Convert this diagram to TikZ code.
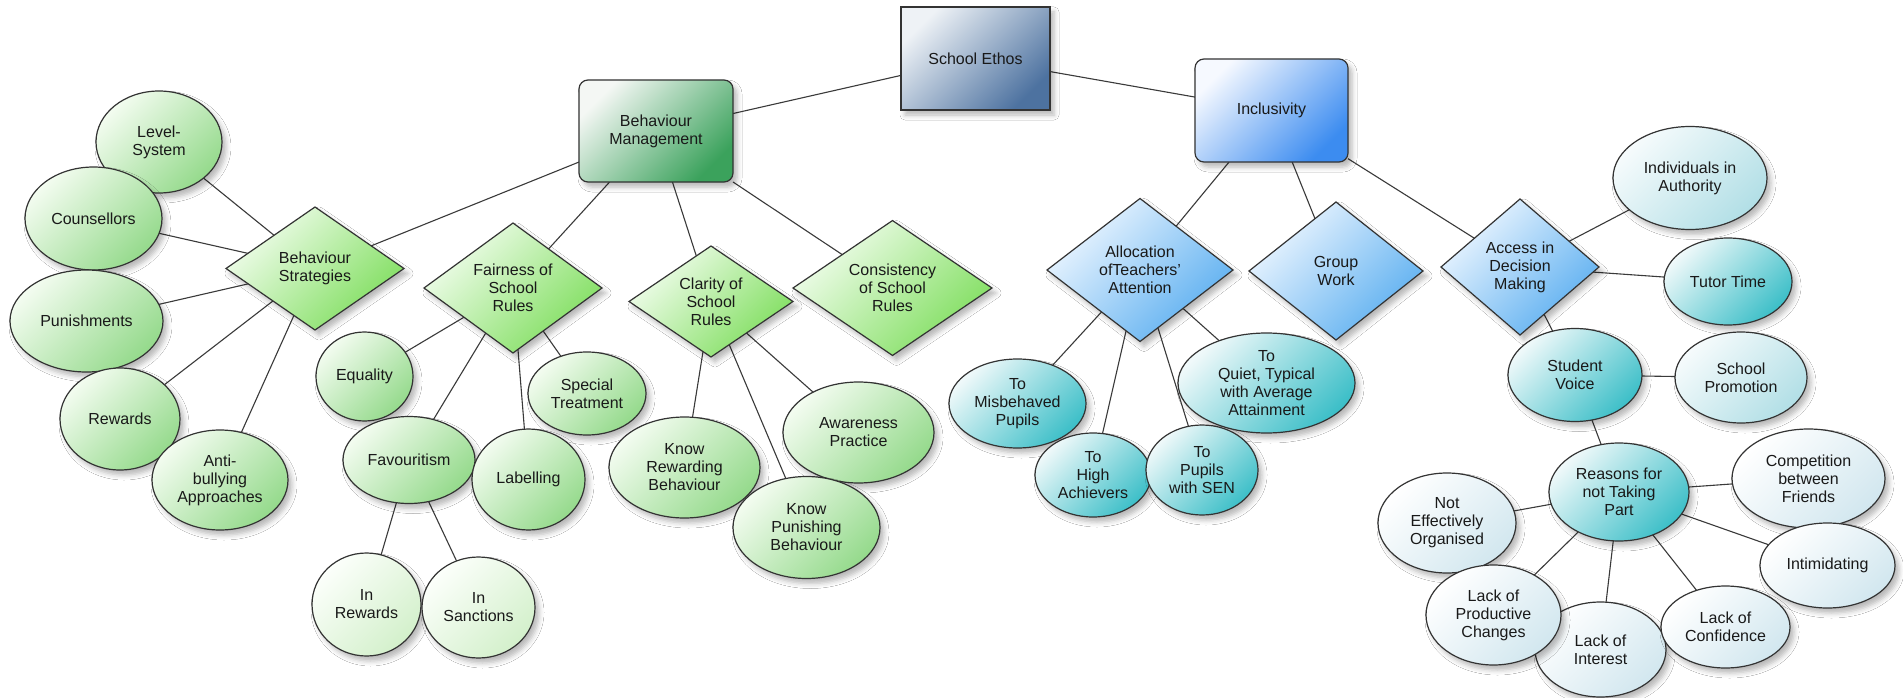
\documentclass[tikz,border=0pt]{standalone}
\usepackage{fontspec}
\setmainfont{Liberation Sans}
\usetikzlibrary{shapes.geometric,shadows.blur,backgrounds}

\definecolor{linec}{HTML}{333333}
\definecolor{edgec}{HTML}{3A3A3A}
\definecolor{ethosA}{HTML}{EEF2F6}
\definecolor{ethosB}{HTML}{4D72A0}
\definecolor{bmA}{HTML}{F4F7F4}
\definecolor{bmB}{HTML}{3BA25C}
\definecolor{inclA}{HTML}{F6F9FF}
\definecolor{inclB}{HTML}{3C8CF0}
\definecolor{gdiaA}{HTML}{F2FDEE}
\definecolor{gdiaB}{HTML}{7FDE5E}
\definecolor{gellA}{HTML}{F3FCF0}
\definecolor{gellB}{HTML}{95DA8C}
\definecolor{gpaleA}{HTML}{FCFFFB}
\definecolor{gpaleB}{HTML}{D3F0CB}
\definecolor{bdiaA}{HTML}{EFF7FF}
\definecolor{bdiaB}{HTML}{5AAEF0}
\definecolor{tealA}{HTML}{F0F9FA}
\definecolor{tealB}{HTML}{3DBFC8}
\definecolor{tpaleA}{HTML}{F6FBFC}
\definecolor{tpaleB}{HTML}{B2DFE6}
\definecolor{whiteB}{HTML}{D2E7EF}

\begin{document}
\begin{tikzpicture}[x=1pt,y=-1pt,
  base/.style={draw=linec, line width=1.2pt, inner sep=0pt, outer sep=0pt,
    align=center, text=black!90, font=\fontsize{16}{18}\selectfont,
    blur shadow={shadow xshift=4pt, shadow yshift=-5pt,
      shadow blur radius=5pt, shadow opacity=28}},
  conn/.style={draw=edgec, line width=1.1pt},
  % shapes
  ell/.style={base, ellipse},
  dia/.style={base, diamond},
  box/.style={base, rectangle},
  rbox/.style={base, rectangle, rounded corners=9pt},
  % fills (light towards the upper left, saturated towards the lower right)
  fEthos/.style={top color=ethosA, bottom color=ethosB, shading angle=45},
  fBM/.style={top color=bmA, bottom color=bmB, shading angle=45},
  fIncl/.style={top color=inclA, bottom color=inclB, shading angle=45},
  fGdia/.style={top color=gdiaA, bottom color=gdiaB, shading angle=45},
  fGell/.style={top color=gellA, bottom color=gellB, shading angle=45},
  fGpale/.style={top color=gpaleA, bottom color=gpaleB, shading angle=45},
  fBdia/.style={top color=bdiaA, bottom color=bdiaB, shading angle=45},
  fTeal/.style={top color=tealA, bottom color=tealB, shading angle=45},
  fTpale/.style={top color=tpaleA, bottom color=tpaleB, shading angle=45},
  fWhite/.style={top color=white, bottom color=whiteB, shading angle=45},
]
\path[use as bounding box] (0,0) rectangle (1903,698);

% ---- top level ----
\node[box, fEthos, minimum width=149pt, minimum height=103pt] (ethos) at (975.5,58.5) {School Ethos};
\node[rbox, fBM, minimum width=154pt, minimum height=102pt] (bm) at (656,131) {Behaviour\\Management};
\node[rbox, fIncl, minimum width=153pt, minimum height=103pt] (incl) at (1271.5,110.5) {Inclusivity};

% ---- behaviour management ----
\node[dia, fGdia, minimum width=178pt, minimum height=123pt] (bs) at (315,268.5) {Behaviour\\Strategies};
\node[dia, fGdia, minimum width=178pt, minimum height=130pt] (fair) at (513,288) {Fairness of\\School\\Rules};
\node[dia, fGdia, minimum width=164pt, minimum height=111pt] (clar) at (711,301.5) {Clarity of\\School\\Rules};
\node[dia, fGdia, minimum width=199pt, minimum height=106pt] (cons) at (892.5,288) {Consistency\\of School\\Rules};

\node[ell, fGell, minimum width=126pt, minimum height=102pt] (level) at (159,142) {Level-\\System};
\node[ell, fGell, minimum width=137pt, minimum height=103pt] (couns) at (93.5,218.5) {Counsellors};
\node[ell, fGell, minimum width=153pt, minimum height=102pt] (punish) at (86.5,321) {Punishments};
\node[ell, fGell, minimum width=120pt, minimum height=102pt] (rewards) at (120,419) {Rewards};
\node[ell, fGell, minimum width=136pt, minimum height=100pt] (antib) at (220,480) {Anti-\\bullying\\Approaches};

\node[ell, fGell, minimum width=97pt, minimum height=89pt] (equal) at (364.5,376.5) {Equality};
\node[ell, fGell, minimum width=118pt, minimum height=83pt] (special) at (587,393.5) {Special\\Treatment};
\node[ell, fGell, minimum width=132pt, minimum height=87pt] (favour) at (409,460) {Favouritism};
\node[ell, fGell, minimum width=113pt, minimum height=101pt] (label) at (528.5,479.5) {Labelling};
\node[ell, fGpale, minimum width=109pt, minimum height=103pt] (inrew) at (366.5,604.5) {In\\Rewards};
\node[ell, fGpale, minimum width=113pt, minimum height=101pt] (insanc) at (478.5,607.5) {In\\Sanctions};

\node[ell, fGell, minimum width=151pt, minimum height=101pt] (knowrew) at (684.5,467.5) {Know\\Rewarding\\Behaviour};
\node[ell, fGell, minimum width=151pt, minimum height=101pt] (aware) at (858.5,432.5) {Awareness\\Practice};
\node[ell, fGell, minimum width=147pt, minimum height=102pt] (knowpun) at (806.5,527.5) {Know\\Punishing\\Behaviour};

% ---- inclusivity ----
\node[dia, fBdia, minimum width=186pt, minimum height=143pt] (alloc) at (1140,270) {Allocation\\ofTeachers'\\Attention};
\node[dia, fBdia, minimum width=174pt, minimum height=138pt] (group) at (1336,271) {Group\\Work};
\node[dia, fBdia, minimum width=158pt, minimum height=136pt] (access) at (1520,267) {Access in\\Decision\\Making};

\node[ell, fTeal, minimum width=137pt, minimum height=89pt] (misb) at (1017.5,403.5) {To\\Misbehaved\\Pupils};
\node[ell, fTeal, minimum width=177pt, minimum height=100pt] (quiet) at (1266.5,383) {To\\Quiet, Typical\\with Average\\Attainment};
\node[ell, fTeal, minimum width=116pt, minimum height=84pt] (high) at (1093,475) {To\\High\\Achievers};
\node[ell, fTeal, minimum width=112pt, minimum height=90pt] (sen) at (1202,470) {To\\Pupils\\with SEN};

\node[ell, fTpale, minimum width=154pt, minimum height=103pt] (indiv) at (1690,178) {Individuals in\\Authority};
\node[ell, fTeal, minimum width=128pt, minimum height=87pt] (tutor) at (1728,281.5) {Tutor Time};
\node[ell, fTeal, minimum width=134pt, minimum height=93pt] (voice) at (1575,375) {Student\\Voice};
\node[ell, fTpale, minimum width=132pt, minimum height=91pt] (promo) at (1741,377.5) {School\\Promotion};
\node[ell, fTeal, minimum width=140pt, minimum height=98pt] (reasons) at (1619,492) {Reasons for\\not Taking\\Part};

\node[ell, fWhite, minimum width=138pt, minimum height=100pt] (noteff) at (1447,523) {Not\\Effectively\\Organised};
\node[ell, fWhite, minimum width=131pt, minimum height=95pt] (lackint) at (1600.5,649.5) {Lack of\\Interest};
\node[ell, fWhite, minimum width=135pt, minimum height=100pt] (lackprod) at (1493.5,615) {Lack of\\Productive\\Changes};
\node[ell, fWhite, minimum width=129pt, minimum height=82pt] (lackconf) at (1725.5,627) {Lack of\\Confidence};
\node[ell, fWhite, minimum width=153pt, minimum height=99pt] (compet) at (1808.5,478.5) {Competition\\between\\Friends};
\node[ell, fWhite, minimum width=135pt, minimum height=85pt] (intim) at (1827.5,565.5) {Intimidating};

% ---- connectors, kept beneath the shapes ----
\begin{scope}[on background layer]
  \fill[white] (0,0) rectangle (1903,698);
  \draw[conn] (ethos) -- (bm);
  \draw[conn] (ethos) -- (incl);

  \draw[conn] (bm) -- (bs);
  \draw[conn] (bm) -- (fair);
  \draw[conn] (bm) -- (clar);
  \draw[conn] (bm) -- (cons);

  \draw[conn] (bs) -- (level);
  \draw[conn] (bs) -- (couns);
  \draw[conn] (bs) -- (punish);
  \draw[conn] (bs) -- (rewards);
  \draw[conn] (bs) -- (antib);

  \draw[conn] (fair) -- (equal);
  \draw[conn] (fair) -- (favour);
  \draw[conn] (fair) -- (label);
  \draw[conn] (fair) -- (special);
  \draw[conn] (favour) -- (inrew);
  \draw[conn] (favour) -- (insanc);

  \draw[conn] (clar) -- (knowrew);
  \draw[conn] (clar) -- (knowpun);
  \draw[conn] (clar) -- (aware);

  \draw[conn] (incl) -- (alloc);
  \draw[conn] (incl) -- (group);
  \draw[conn] (incl) -- (access);

  \draw[conn] (alloc) -- (misb);
  \draw[conn] (alloc) -- (high);
  \draw[conn] (alloc) -- (sen);
  \draw[conn] (alloc) -- (quiet);

  \draw[conn] (access) -- (indiv);
  \draw[conn] (access) -- (tutor);
  \draw[conn] (access) -- (voice);
  \draw[conn] (voice) -- (promo);
  \draw[conn] (voice) -- (reasons);

  \draw[conn] (reasons) -- (noteff);
  \draw[conn] (reasons) -- (lackprod);
  \draw[conn] (reasons) -- (lackint);
  \draw[conn] (reasons) -- (lackconf);
  \draw[conn] (reasons) -- (intim);
  \draw[conn] (reasons) -- (compet);
\end{scope}
\end{tikzpicture}
\end{document}
